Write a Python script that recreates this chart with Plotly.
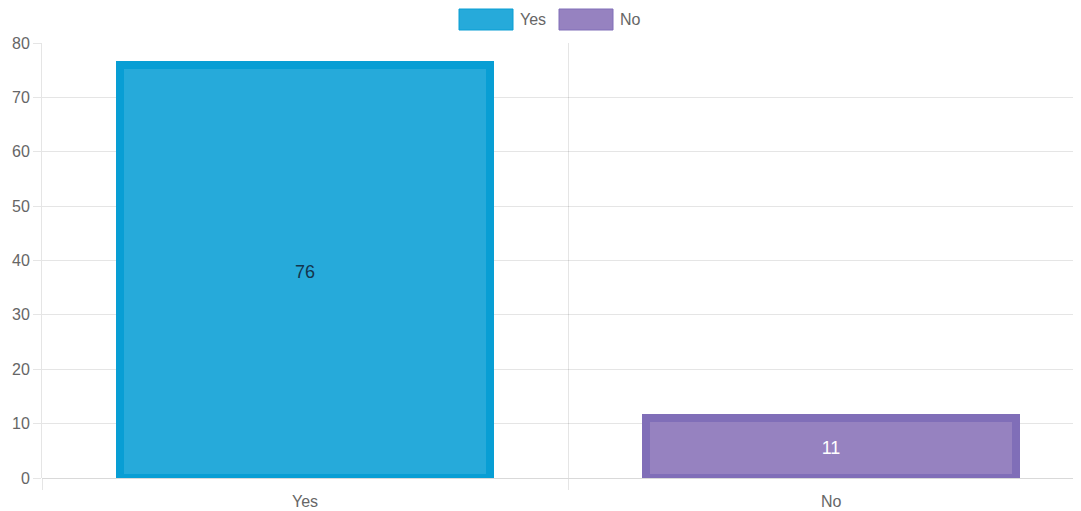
import plotly.graph_objects as go

categories = ["Yes", "No"]
values = [76, 11]
fill_colors = ["rgba(38,170,218,1)", "rgba(150,130,192,1)"]
border_colors = ["rgb(8,158,212)", "rgb(128,110,184)"]
label_colors = ["#14354d", "#ffffff"]
y_ticks = [0, 10, 20, 30, 40, 50, 60, 70, 80]

# page has an 8px body margin; work in window pixels
OFF = 8
W, H = 1081 - OFF, 511 - OFF
ML, MR, MT, MB = 42 - OFF, 0, 43 - OFF, 511 - 478
PW, PH = W - ML - MR, H - MT - MB
FONT = "Liberation Sans, Arial, sans-serif"

fig = go.Figure()
fig.add_trace(go.Bar(
    x=categories, y=values,
    width=0.703,
    marker=dict(color=fill_colors, line=dict(color=border_colors, width=8)),
    text=[str(v) for v in values],
    textposition="inside", insidetextanchor="middle",
    textfont=dict(family=FONT, size=18, color=label_colors),
    showlegend=False, hoverinfo="x+y",
))

def px_x(p):
    return (p - OFF - ML) / PW

def px_y(p):
    return (OFF + H - MB - p) / PH

shapes = []
annotations = []
legend_boxes = [(459, 513), (559, 613)]
for (x0, x1), name, fc, bc in zip(legend_boxes, categories, fill_colors, border_colors):
    shapes.append(dict(type="rect", xref="paper", yref="paper",
                       x0=px_x(x0), x1=px_x(x1), y0=px_y(30), y1=px_y(9),
                       fillcolor=fc, line=dict(color=bc, width=1)))
    annotations.append(dict(xref="paper", yref="paper", x=px_x(x1 + 5), y=px_y(19.5),
                            text=name, showarrow=False, xanchor="left", yanchor="middle",
                            font=dict(family=FONT, size=16, color="#666666")))

fig.update_layout(
    width=W, height=H,
    margin=dict(l=ML, r=MR, t=MT, b=MB, pad=0, autoexpand=False),
    paper_bgcolor="white", plot_bgcolor="white",
    shapes=shapes, annotations=annotations,
    bargap=0,
    font=dict(family=FONT, size=16, color="#666666"),
    xaxis=dict(
        type="category", range=[-0.5, 1.475], automargin=False,
        tickson="boundaries", ticks="outside", ticklen=11,
        tickcolor="rgba(0,0,0,0.1)", tickwidth=1,
        ticklabelstandoff=12,
        showgrid=True, gridcolor="rgba(0,0,0,0.1)", gridwidth=1,
        showline=False, zeroline=False,
        tickfont=dict(family=FONT, size=16, color="#666666"),
    ),
    yaxis=dict(
        range=[0, 80], tickvals=y_ticks, ticks="outside", ticklen=8,
        automargin=False,
        tickcolor="rgba(0,0,0,0.1)", tickwidth=1,
        showgrid=True, gridcolor="rgba(0,0,0,0.1)", gridwidth=1,
        showline=True, linecolor="rgba(0,0,0,0.1)", linewidth=1,
        zeroline=True, zerolinecolor="rgba(0,0,0,0.15)", zerolinewidth=1,
        tickfont=dict(family=FONT, size=16, color="#666666"),
    ),
)

fig.write_html("out.html")
